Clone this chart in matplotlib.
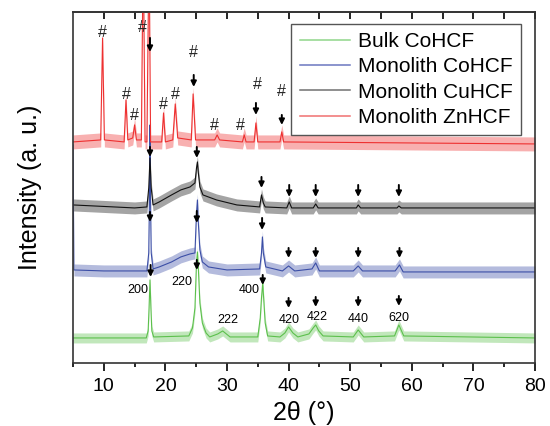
import matplotlib
matplotlib.use("Agg")
import matplotlib.pyplot as plt
from matplotlib.lines import Line2D

plt.rcParams['font.family'] = ['Liberation Sans', 'DejaVu Sans']

# traces: 2theta (deg) and intensity (a.u., stacked)
bulk_co_x = [5, 16.9, 17.2, 17.35, 17.5, 17.65, 17.8, 18.1, 23.8, 24.4, 24.8, 25.05, 25.2, 25.35, 25.6, 26.0, 26.6, 27.2,
             28.5, 29.3, 30.5, 35.0, 35.4, 35.6, 35.8, 36.0, 36.2, 36.6, 38.6, 39.4, 40.0, 40.7, 41.5, 43.3, 44.0, 44.4,
             44.9, 45.6, 50.5, 51.3, 52.2, 57.2, 57.9, 58.7, 80]
bulk_co_y = [25, 25, 32, 55, 83, 55, 32, 26, 27, 35, 55, 100, 111, 95, 60, 40, 30, 26,
             29, 32, 26, 26, 45, 65, 80, 60, 40, 27, 26, 30, 36, 30, 26, 29, 35, 38,
             32, 27, 26, 33, 26, 27, 38, 27, 25]

mono_co_x = [5, 5.15, 10, 17.0, 17.3, 17.45, 17.5, 17.55, 17.7, 18.0, 19, 21, 22.5, 24, 24.8, 25.05, 25.2, 25.35, 25.6,
             26, 27, 30, 35.3, 35.6, 35.75, 35.9, 36.3, 39, 40, 41, 43.8, 44.4, 45, 50.5, 51.3, 52, 57.3, 58, 58.6, 80]
mono_co_y = [218, 93, 92, 92, 110, 180, 238, 180, 110, 94, 96, 101, 106, 109, 110, 150, 163, 140, 113,
             101, 96, 93, 94, 110, 126, 110, 96, 92, 97, 92, 94, 100, 92, 92, 97, 92, 92, 98, 91, 91]

mono_cu_x = [5, 15, 17.0, 17.3, 17.5, 17.7, 18.0, 19, 21, 22.5, 24, 24.8, 25.05, 25.2, 25.35, 25.6, 26.1, 28.3,
             31.6, 35.3, 35.6, 35.9, 36.2, 39.7, 40.1, 40.5, 44.0, 44.4, 44.8, 51.0, 51.3, 51.7, 57.6, 57.9, 58.3, 80]
mono_cu_y = [158, 155, 156, 175, 205, 175, 158, 161, 168, 173, 176, 180, 195, 201, 190, 176, 168, 163,
             158, 156, 168, 160, 156, 155, 161, 155, 155, 159, 155, 155, 158, 155, 155, 157, 155, 155]

mono_zn_x = [5, 9.5, 9.8, 10.1, 13.3, 13.6, 13.9, 14.7, 15.0, 15.3, 16.1, 16.4, 16.7, 17.0, 17.35, 17.6, 19.4, 19.7,
             20.0, 21.2, 21.6, 22.0, 24.2, 24.5, 24.9, 28.0, 28.4, 28.8, 32.5, 32.8, 33.1, 34.4, 34.7, 35.0, 38.6,
             38.9, 39.2, 80]
mono_zn_y = [221, 223, 325, 223, 221, 263, 223, 225, 238, 223, 223, 420, 221, 221, 420, 221, 221, 250,
             221, 223, 259, 225, 223, 269, 223, 223, 228, 223, 221, 228, 221, 221, 240, 221, 221,
             231, 221, 219]

# noise band half-width
noise = [5, 6, 6, 7]

labels = ['Bulk CoHCF', 'Monolith CoHCF', 'Monolith CuHCF', 'Monolith ZnHCF']
colors = ['#5cc04c', '#3b4ea6', '#111111', '#ee3030']
legend_colors = ['#8fd68a', '#6b77c0', '#707070', '#f07070']

# peak markers: x, tail, tip
arrows_x = [17.5, 24.6, 34.7, 38.9,
            17.5, 25.1, 35.6, 40.1, 44.4, 51.3, 57.9,
            17.5, 25.1, 35.7, 40.0, 44.4, 51.3, 58.0,
            17.6, 25.1, 35.8, 40.0, 44.4, 51.3, 57.9]
arrows_top = [325, 288, 260, 248,
              216, 216, 186, 178, 178, 178, 178,
              151, 152, 145, 115, 115, 115, 115,
              98, 103, 88, 65, 66, 66, 67]
arrows_tip = [311, 276, 248, 238,
              206, 205, 175, 166, 166, 166, 166,
              141, 140, 133, 105, 105, 105, 105,
              86, 93, 78, 55, 56, 56, 57]

hash_x = [9.8, 13.6, 15.0, 16.3, 19.7, 21.6, 24.6, 28.0, 32.1, 35.0, 38.9]
hash_y = [330, 268, 247, 335, 258, 268, 310, 237, 237, 278, 271]

hkl = ['200', '220', '222', '400', '420', '422', '440', '620']
hkl_x = [15.6, 22.7, 30.2, 33.6, 40.1, 44.6, 51.3, 57.9]
hkl_y = [73, 81, 43, 73, 43, 46, 44, 45]


def main():
    fig = plt.figure(figsize=(5.5, 4.26), dpi=100)
    ax = fig.add_axes([0.1327, 0.148, 0.84, 0.824])

    traces = [(bulk_co_x, bulk_co_y), (mono_co_x, mono_co_y),
              (mono_cu_x, mono_cu_y), (mono_zn_x, mono_zn_y)]
    for (x, y), c, n in zip(traces, colors, noise):
        lo = [v - n for v in y]
        hi = [v + n for v in y]
        ax.fill_between(x, lo, hi, color=c, alpha=0.38, lw=0)
        ax.plot(x, y, color=c, lw=0.8)

    for x, t, p in zip(arrows_x, arrows_top, arrows_tip):
        ax.annotate('', xy=(x, p), xytext=(x, t),
                    arrowprops=dict(arrowstyle='-|>', color='k', lw=1.4,
                                    mutation_scale=8, shrinkA=0, shrinkB=0))

    for x, y in zip(hash_x, hash_y):
        ax.text(x, y, '#', fontsize=11.5, ha='center', va='center', color='#222222')

    for s, x, y in zip(hkl, hkl_x, hkl_y):
        ax.text(x, y, s, fontsize=9, ha='center', va='center')

    ax.set_xlim(5, 80)
    ax.set_ylim(0, 351)
    ax.set_xticks(range(10, 81, 10))
    ax.set_xticks(range(5, 81, 5), minor=True)
    ax.set_yticks([])
    ax.tick_params(axis='x', which='major', direction='out', length=6, width=1.2,
                   labelsize=14, pad=5)
    ax.tick_params(axis='x', which='minor', direction='out', length=3, width=1.2)
    top = ax.secondary_xaxis('top')
    top.set_xticks(range(10, 81, 5))
    top.tick_params(direction='in', length=5, width=1.2, labeltop=False)
    for sp in list(ax.spines.values()) + list(top.spines.values()):
        sp.set_linewidth(1.2)
        sp.set_color('#333333')

    ax.set_xlabel('2θ (°)', fontsize=18, labelpad=4)
    ax.set_ylabel('Intensity (a. u.)', fontsize=18, labelpad=22)

    handles = [Line2D([], [], color=c, lw=1.1) for c in legend_colors]
    leg = ax.legend(handles, labels, loc='upper right', bbox_to_anchor=(0.97, 0.966),
                    borderaxespad=0, fontsize=15, handlelength=2.4, labelspacing=0.3,
                    fancybox=False, framealpha=1, borderpad=0.4, handletextpad=0.4)
    leg.get_frame().set_edgecolor('#555555')
    leg.get_frame().set_linewidth(1.0)

    fig.savefig('out.png', dpi=100)


if __name__ == "__main__":
    main()
